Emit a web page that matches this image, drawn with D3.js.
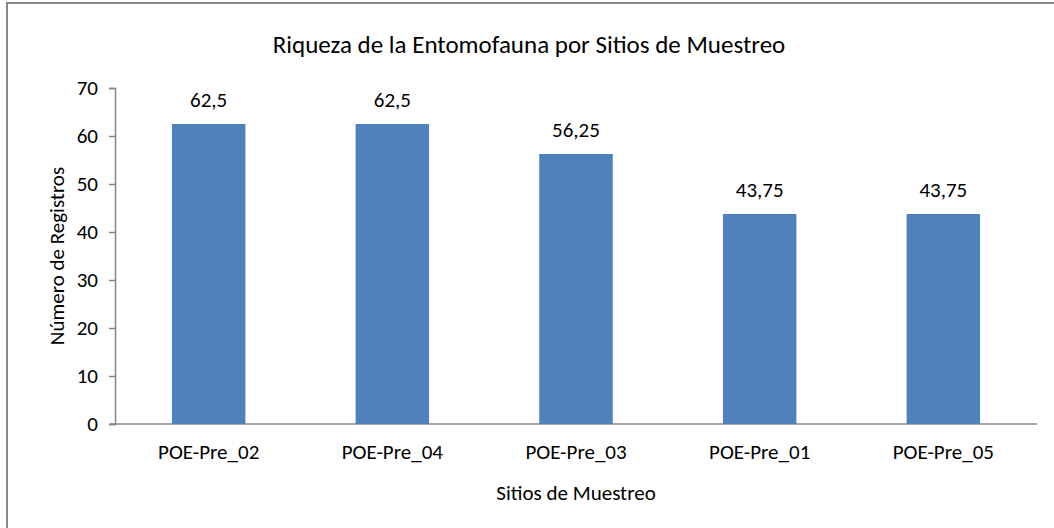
<head>
<meta charset="utf-8">
<style>
body { margin: 0; background: #fff; }
text { font-family: Carlito, Lato, "Open Sans", sans-serif; fill: #000; }
.axis path, .axis line { fill: none; stroke: #868686; stroke-width: 1.5; }
.bar { fill: #4F81BD; }
</style>
<script src="https://d3js.org/d3.v7.min.js"></script>
</head>
<body>
<div id="chart"></div>
<script>
var sitios = ['POE-Pre_02', 'POE-Pre_04', 'POE-Pre_03', 'POE-Pre_01', 'POE-Pre_05'];
var valores = [62.5, 62.5, 56.25, 43.75, 43.75];
var etiquetas = ['62,5', '62,5', '56,25', '43,75', '43,75'];
var yTicks = [0, 10, 20, 30, 40, 50, 60, 70];

var W = 1054, H = 528;
var margin = {top: 88, right: 17, bottom: 104, left: 115},
    width = W - margin.left - margin.right,
    height = H - margin.top - margin.bottom;

var svg = d3.select('#chart').append('svg')
  .attr('width', W).attr('height', H);

// chart frame (right/bottom fall outside the picture)
svg.append('rect')
  .attr('x', 7).attr('y', 3)
  .attr('width', W + 10).attr('height', H + 10)
  .attr('fill', 'none').attr('stroke', '#888').attr('stroke-width', 2);

svg.append('text')
  .attr('x', 529).attr('y', 53)
  .attr('text-anchor', 'middle')
  .style('font-size', '25px')
  .text('Riqueza de la Entomofauna por Sitios de Muestreo');

var g = svg.append('g')
  .attr('transform', 'translate(' + margin.left + ',' + margin.top + ')');

var x = d3.scaleBand().domain(sitios).range([0, width]).paddingInner(0.6).paddingOuter(0.31);
var y = d3.scaleLinear().domain([0, 70]).range([height, 0]);

var yAxis = g.append('g').attr('class', 'axis')
  .call(d3.axisLeft(y).tickValues(yTicks).tickSize(6).tickSizeOuter(6).tickPadding(11));
yAxis.selectAll('text').style('font-size', '21px');

var xAxis = g.append('g').attr('class', 'axis')
  .attr('transform', 'translate(0,' + height + ')')
  .call(d3.axisBottom(x).tickSize(0).tickSizeOuter(0).tickPadding(20));
xAxis.selectAll('text').style('font-size', '21px');
xAxis.select('.domain').attr('d', 'M-5,0H' + width);

g.selectAll('.bar')
  .data(valores)
  .enter().append('rect')
    .attr('class', 'bar')
    .attr('x', function(d, i) { return x(sitios[i]); })
    .attr('width', x.bandwidth())
    .attr('y', function(d) { return y(d); })
    .attr('height', function(d) { return height - y(d); });

g.selectAll('.lbl')
  .data(valores)
  .enter().append('text')
    .attr('class', 'lbl')
    .attr('x', function(d, i) { return x(sitios[i]) + x.bandwidth() / 2; })
    .attr('y', function(d) { return y(d) - 17; })
    .attr('text-anchor', 'middle')
    .style('font-size', '21px')
    .text(function(d, i) { return etiquetas[i]; });

g.append('text')
  .attr('x', width / 2).attr('y', height + 76)
  .attr('text-anchor', 'middle')
  .style('font-size', '21px')
  .text('Sitios de Muestreo');

g.append('text')
  .attr('transform', 'translate(' + (-51) + ',' + (height / 2) + ') rotate(-90)')
  .attr('text-anchor', 'middle')
  .style('font-size', '21px')
  .text('Número de Registros');
</script>
</body>
